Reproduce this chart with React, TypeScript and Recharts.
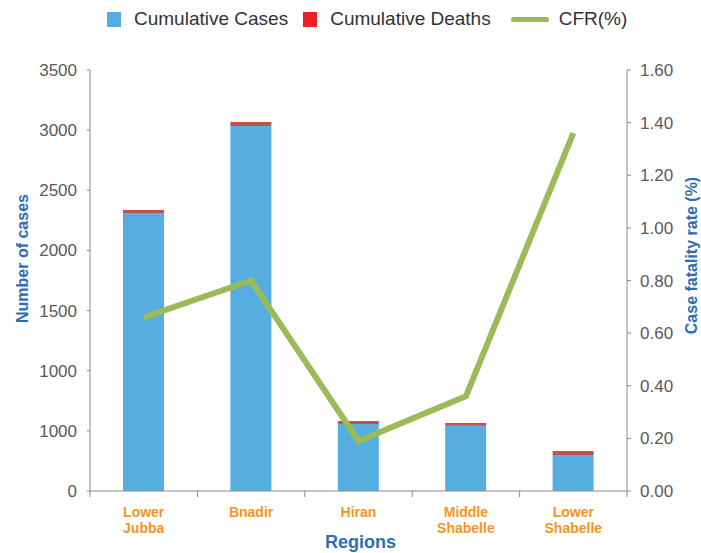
import React from 'react';
import { ComposedChart, Bar, Line, XAxis, YAxis, Label } from 'recharts';

const regions = ['Lower Jubba', 'Bnadir', 'Hiran', 'Middle Shabelle', 'Lower Shabelle'];
const regionLines = [['Lower', 'Jubba'], ['Bnadir'], ['Hiran'], ['Middle', 'Shabelle'], ['Lower', 'Shabelle']];
const cumulativeCases = [2311, 3034, 557, 543, 299];
const cumulativeDeaths = [25, 33, 25, 22, 33];
const cfr = [0.66, 0.8, 0.19, 0.36, 1.36];
const leftTicks = [0, 500, 1000, 1500, 2000, 2500, 3000, 3500];
const leftTickLabels = ['0', '1000', '1000', '1500', '2000', '2500', '3000', '3500'];
const rightTicks = [0, 0.2, 0.4, 0.6, 0.8, 1.0, 1.2, 1.4, 1.6];

const data = regions.map((r, i) => ({
  region: r,
  cases: cumulativeCases[i],
  deaths: cumulativeDeaths[i],
  cfr: cfr[i],
}));

const W = 701;
const H = 553;
const M = { top: 70, right: 14, bottom: 22, left: 30 };
const Y_W = 60;
const X_H = 40;
const plotW = W - M.left - M.right - 2 * Y_W;
const halfBand = plotW / regions.length / 2;

const FONT = '"Liberation Sans", Arial, Helvetica, sans-serif';
const BLUE_LABEL = '#2E6DB4';
const ORANGE = '#F7941D';
const AXIS = '#8A8A8A';
const TICK_TXT = '#595959';
const CASES_C = '#56ADE0';
const DEATHS_C = '#C0504D';
const LEGEND_RED = '#EE2024';
const GREEN = '#9BBB59';

const CategoryTick = (props: any) => {
  const { x, y, index } = props;
  const lines = regionLines[index] || [];
  const last = index === regions.length - 1;
  return (
    <g>
      <line x1={x - halfBand} y1={y} x2={x - halfBand} y2={y + 6} stroke={AXIS} strokeWidth={1} />
      {last && <line x1={x + halfBand} y1={y} x2={x + halfBand} y2={y + 6} stroke={AXIS} strokeWidth={1} />}
      <text x={x} y={y + 26} textAnchor="middle" fill={ORANGE} fontSize={14} fontWeight="bold" fontFamily={FONT}>
        {lines.map((l, i) => (
          <tspan key={i} x={x} dy={i === 0 ? 0 : 16}>{l}</tspan>
        ))}
      </text>
    </g>
  );
};

const LeftLabel = (props: any) => {
  const vb = props.viewBox || { x: 30, y: 70, width: 60, height: 421 };
  const x = vb.x - 2;
  const y = vb.y + vb.height / 2 - 22;
  return (
    <text x={x} y={y} transform={`rotate(-90, ${x}, ${y})`} textAnchor="middle" fill={BLUE_LABEL} fontSize={16} fontWeight="bold" fontFamily={FONT}>
      Number of cases
    </text>
  );
};

const RightLabel = (props: any) => {
  const vb = props.viewBox || { x: 627, y: 70, width: 60, height: 421 };
  const x = vb.x + vb.width + 10;
  const y = vb.y + vb.height / 2 - 25;
  return (
    <text x={x} y={y} transform={`rotate(-90, ${x}, ${y})`} textAnchor="middle" fill={BLUE_LABEL} fontSize={16} fontWeight="bold" fontFamily={FONT}>
      Case fatality rate (%)
    </text>
  );
};

const BottomLabel = (props: any) => {
  const vb = props.viewBox || { x: 90, y: 491, width: 537, height: 40 };
  const x = vb.x + vb.width / 2 + 2;
  const y = vb.y + 57;
  return (
    <text x={x} y={y} textAnchor="middle" fill={BLUE_LABEL} fontSize={18} fontWeight="bold" fontFamily={FONT}>
      Regions
    </text>
  );
};

const legendText: React.CSSProperties = { fontSize: 19, color: '#333333', fontFamily: FONT, lineHeight: '20px', whiteSpace: 'nowrap' };

export default function App() {
  return (
    <div style={{ position: 'absolute', left: 0, top: 0, width: W, height: H, background: '#fff', fontFamily: FONT }}>
      <div style={{ position: 'absolute', left: 107, top: 9, display: 'flex', alignItems: 'center' }}>
        <div style={{ width: 14, height: 15, background: CASES_C, marginRight: 13 }} />
        <span style={{ ...legendText, marginRight: 15 }}>Cumulative Cases</span>
        <div style={{ width: 14, height: 15, background: LEGEND_RED, marginRight: 13 }} />
        <span style={{ ...legendText, marginRight: 20 }}>Cumulative Deaths</span>
        <div style={{ width: 38, height: 5, background: GREEN, borderRadius: 3, marginRight: 10 }} />
        <span style={legendText}>CFR(%)</span>
      </div>
      <ComposedChart width={W} height={H} data={data} margin={M}>
        <XAxis
          dataKey="region"
          xAxisId="x"
          height={X_H}
          axisLine={{ stroke: AXIS }}
          tickLine={false}
          tickSize={0}
          tickMargin={0}
          interval={0}
          tick={<CategoryTick />}
        >
          <Label content={<BottomLabel />} />
        </XAxis>
        <YAxis
          yAxisId="left"
          orientation="left"
          width={Y_W}
          domain={[0, 3500]}
          ticks={leftTicks}
          interval={0}
          tickFormatter={(v: number, i: number) => leftTickLabels[i] ?? String(v)}
          axisLine={{ stroke: AXIS }}
          tickLine={{ stroke: AXIS }}
          tickSize={3}
          tickMargin={10}
          tick={{ fill: TICK_TXT, fontSize: 17, fontFamily: FONT }}
        >
          <Label content={<LeftLabel />} />
        </YAxis>
        <YAxis
          yAxisId="right"
          orientation="right"
          width={Y_W}
          domain={[0, 1.6]}
          ticks={rightTicks}
          interval={0}
          tickFormatter={(v: number) => v.toFixed(2)}
          axisLine={{ stroke: AXIS }}
          tickLine={{ stroke: AXIS }}
          tickSize={4}
          tickMargin={9}
          tick={{ fill: TICK_TXT, fontSize: 17, fontFamily: FONT }}
        >
          <Label content={<RightLabel />} />
        </YAxis>
        <Bar xAxisId="x" yAxisId="left" dataKey="cases" stackId="a" fill={CASES_C} barSize={41} isAnimationActive={false} />
        <Bar xAxisId="x" yAxisId="left" dataKey="deaths" stackId="a" fill={DEATHS_C} barSize={41} isAnimationActive={false} />
        <Line xAxisId="x" yAxisId="right" type="linear" dataKey="cfr" stroke={GREEN} strokeWidth={6} dot={false} activeDot={false} isAnimationActive={false} />
      </ComposedChart>
    </div>
  );
}
